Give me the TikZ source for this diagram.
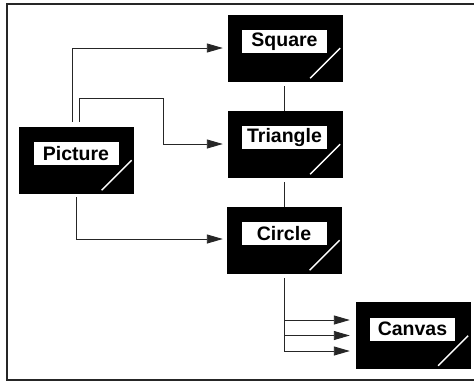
\documentclass[tikz,border=0pt]{standalone}
\usepackage{fontspec}
\setmainfont{Liberation Sans}
\usetikzlibrary{arrows.meta}
\tikzset{
  blk/.style={fill=black, draw=black, minimum width=114pt, minimum height=66pt, inner sep=0pt},
  lbl/.style={fill=white, minimum width=85pt, minimum height=23pt, inner sep=0pt,
    font=\fontsize{19.5}{21}\selectfont\bfseries},
  diag/.style={white, line width=1.5pt},
  conn/.style={black!85, line width=0.9pt},
  arr/.style={conn, -{Triangle[length=16pt,width=9pt]}},
  frame/.style={black!85, line width=2pt}
}
\newcommand{\mybox}[3]{%
  \node[blk] (#1) at #2 {};
  \node[lbl] (#1L) at ([xshift=-0.5pt,yshift=6.5pt]#1.center) {#3};
  \draw[diag] ([xshift=-32pt,yshift=3pt]#1.south east) -- ([xshift=-2pt,yshift=33pt]#1.south east);
}
\begin{document}
\begin{tikzpicture}[x=1pt,y=-1pt]
\useasboundingbox (0,0) rectangle (474,381);
\fill[white] (0,0) rectangle (474,381);
\draw[frame] (490,4) -- (7,4) -- (7,380) -- (490,380);

\mybox{sq}{(285,48)}{Square}
\mybox{tri}{(285,144)}{Triangle}
\mybox{cir}{(284.5,240)}{Circle}
\mybox{pic}{(76.5,160)}{Picture}
\mybox{can}{(413,335.5)}{Canvas}

% Picture -> Square
\draw[arr] ([xshift=-4.5pt,yshift=5pt]pic.north) |- ([xshift=-5pt]sq.west);
% Picture -> Triangle
\coordinate (tcorner) at (163,98);
\draw[arr] ([xshift=2.5pt,yshift=5pt]pic.north) |- (tcorner) |- ([xshift=-5pt]tri.west);
% Picture -> Circle
\draw[arr] ([yshift=-4pt]pic.south) |- ([xshift=-4.5pt,yshift=1pt]cir.west);
% Square - Triangle
\draw[conn] ([xshift=-1pt,yshift=-5pt]sq.south) -- ([xshift=-1pt]tri.north);
% Triangle - Circle
\draw[conn] ([xshift=-1pt,yshift=-5pt]tri.south) -- ([xshift=-0.5pt]cir.north);
% Circle -> Canvas (three arrows)
\coordinate (cs) at ([xshift=-0.5pt,yshift=-5pt]cir.south);
\draw[arr] (cs) |- ([xshift=-6pt,yshift=15.5pt]can.west);
\draw[arr] (cs) |- ([xshift=-6pt]can.west);
\draw[arr] (cs) |- ([xshift=-6pt,yshift=-15.5pt]can.west);
\end{tikzpicture}
\end{document}
